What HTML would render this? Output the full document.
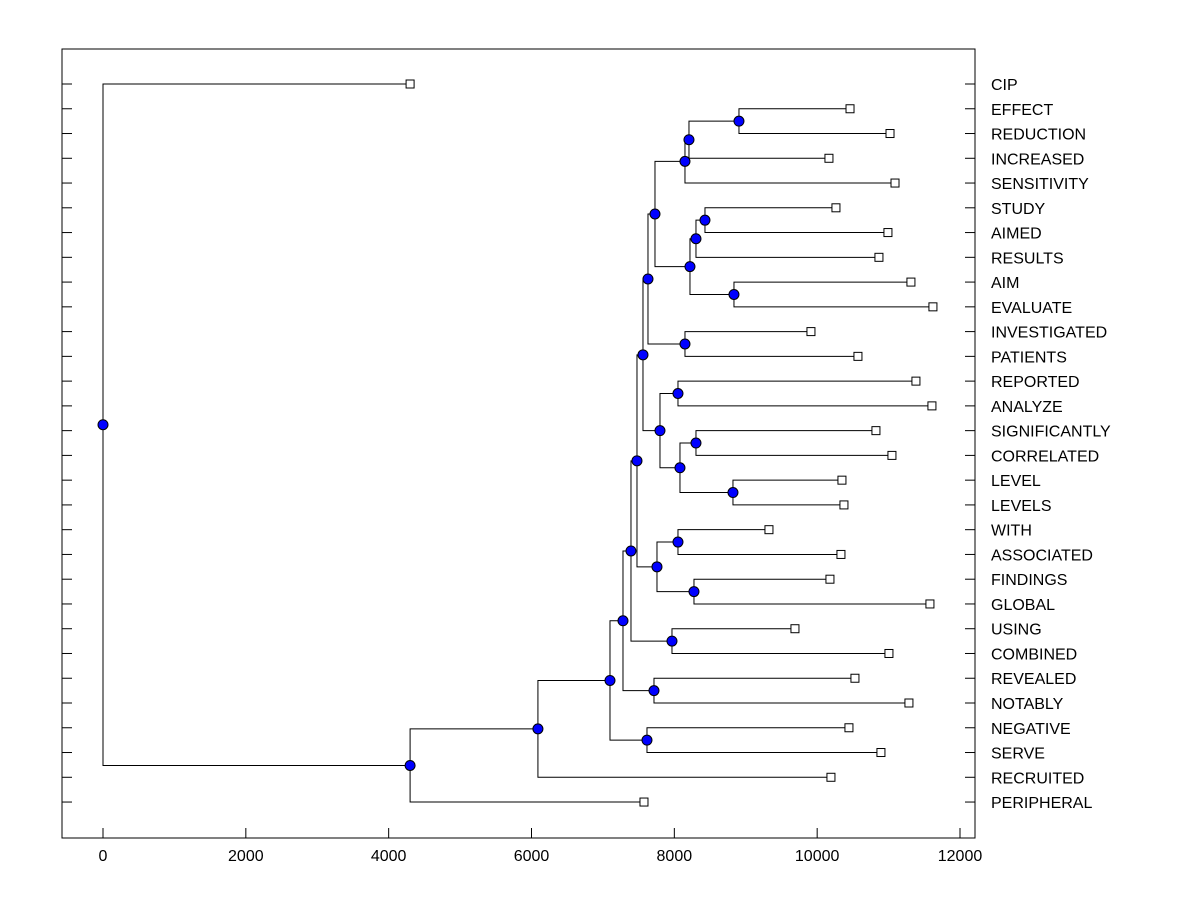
<!DOCTYPE html>
<html><head><meta charset="utf-8"><style>
body{margin:0;background:#fff}
svg{display:block;font-family:"Liberation Sans",Arial,sans-serif}
</style></head><body>
<svg id="chart" width="1200" height="900"></svg>
<script>
const labels=["CIP","EFFECT","REDUCTION","INCREASED","SENSITIVITY","STUDY","AIMED","RESULTS","AIM","EVALUATE","INVESTIGATED","PATIENTS","REPORTED","ANALYZE","SIGNIFICANTLY","CORRELATED","LEVEL","LEVELS","WITH","ASSOCIATED","FINDINGS","GLOBAL","USING","COMBINED","REVEALED","NOTABLY","NEGATIVE","SERVE","RECRUITED","PERIPHERAL"];
const leafValues=[4300,10460,11020,10165,11090,10263,10991,10865,11313,11621,9913,10571,11383,11607,10823,11047,10347,10375,9325,10333,10179,11579,9689,11005,10529,11285,10445,10893,10193,7575];
const xTicks=[0,2000,4000,6000,8000,10000,12000];
// merges: [childA, childB, height]; numbers = leaf index, "nK" = merge K
const merges=[
 [1,2,8905],[ "n0",3,8205],["n1",4,8149],[5,6,8429],["n3",7,8303],[8,9,8835],
 ["n4","n5",8219],["n2","n6",7729],[10,11,8149],["n7","n8",7631],[12,13,8051],
 [14,15,8303],[16,17,8821],["n11","n12",8079],["n10","n13",7799],["n9","n14",7561],
 [18,19,8051],[20,21,8275],["n16","n17",7757],["n15","n18",7477],[22,23,7967],
 ["n19","n20",7393],[24,25,7715],["n21","n22",7281],[26,27,7617],["n23","n24",7099],
 ["n25",28,6090],["n26",29,4300],[0,"n27",0]
];
</script>
<script>
const NS="http://www.w3.org/2000/svg";
const svg=document.getElementById('chart');
const L=62,R=975,T=49,B=838;
const xs=v=>103+v*(857/12000);
const ys=i=>84+i*24.76;
function mk(tag,a,p){const e=document.createElementNS(NS,tag);for(const k in a)e.setAttribute(k,a[k]);(p||svg).appendChild(e);return e;}
const frame=mk('rect',{x:L,y:T,width:R-L,height:B-T,fill:'none',stroke:'#000','stroke-width':1});


labels.forEach((lab,i)=>{
  const y=ys(i);
  const t1=mk('line',{x1:L,x2:L+10,y1:y,y2:y,stroke:'#000'});
  
  
  const t2=mk('line',{x1:R-10,x2:R,y1:y,y2:y,stroke:'#000'});
  
  
  const tx=mk('text',{x:991,y:y+6,'font-size':16,fill:'#000'});
  tx.textContent=lab;
  
  
});
xTicks.forEach(v=>{
  const x=xs(v);
  const tk=mk('line',{x1:x,x2:x,y1:B,y2:B-10,stroke:'#000'});
  
  
  const tl=mk('text',{x:x,y:861,'font-size':16,'text-anchor':'middle',fill:'#000'});
  tl.textContent=v;
  
  
});
const nodeY=[],nodeX=[];
function pos(c){if(typeof c==='number')return [xs(leafValues[c]),ys(c)];const k=+c.slice(1);return [nodeX[k],nodeY[k]];}
const lines=mk('g',{stroke:'#000','stroke-width':1,fill:'none'});


const marks=[];
merges.forEach((m,k)=>{
  const a=pos(m[0]),b=pos(m[1]);
  const x=xs(m[2]);
  nodeX[k]=x;nodeY[k]=(a[1]+b[1])/2;
  mk('polyline',{points:`${a[0]},${a[1]} ${x},${a[1]} ${x},${b[1]} ${b[0]},${b[1]}`},lines);
  marks.push([x,nodeY[k]]);
});
labels.forEach((lab,i)=>{
  const sq=mk('rect',{x:xs(leafValues[i])-4,y:ys(i)-4,width:8,height:8,fill:'#fff',stroke:'#000'});
  
  
});
marks.forEach(p=>{
  const c=mk('circle',{cx:p[0],cy:p[1],r:5,fill:'#0000ff',stroke:'#000'});
  
  
});
</script>
</body></html>
